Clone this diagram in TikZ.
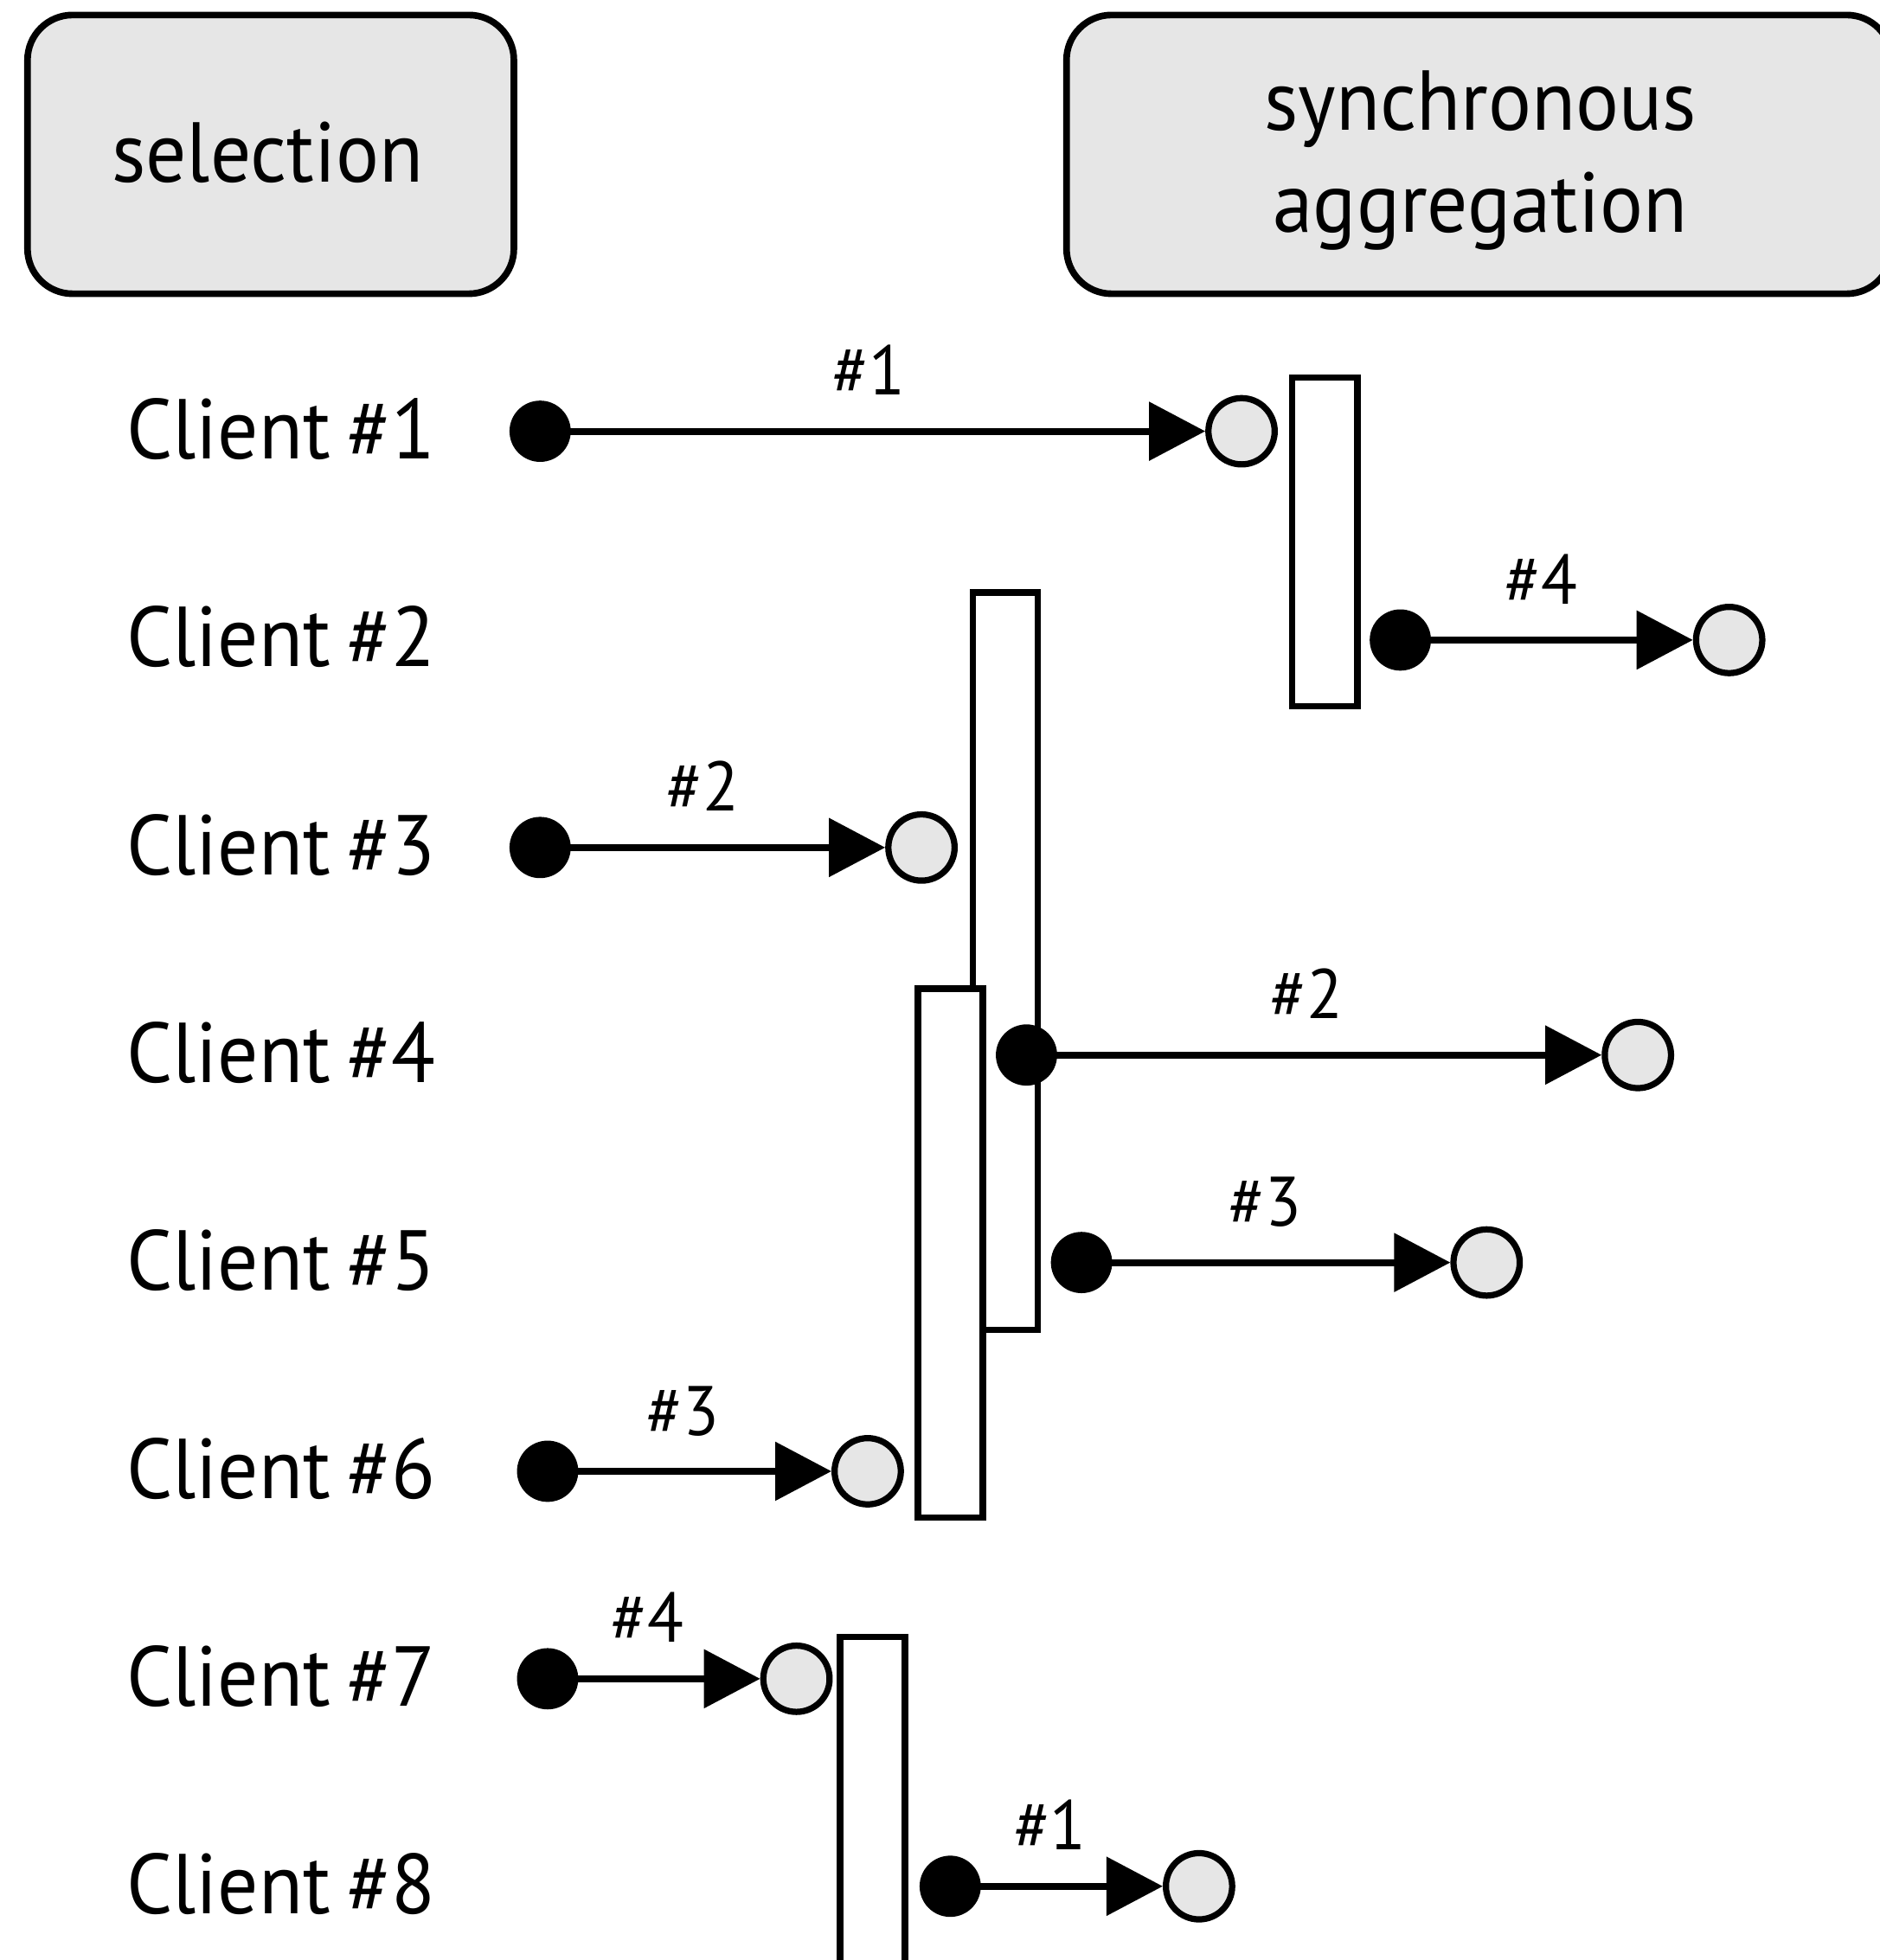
\documentclass[tikz,border=0pt]{standalone}
\usepackage{fontspec}
\setmainfont[FakeStretch=0.95,WordSpace=0.8]{PT Sans}
\usetikzlibrary{arrows.meta}
\definecolor{boxgray}{HTML}{E6E6E6}
\begin{document}
\begin{tikzpicture}[x=1pt,y=-1pt,
  phase/.style={draw, line width=5.3pt, fill=boxgray, rounded corners=36pt, inner sep=0},
  head/.style={anchor=base, inner sep=0, font=\fontsize{68}{80}\selectfont},
  client/.style={anchor=base west, inner sep=0, font=\fontsize{68}{80}\selectfont},
  tag/.style={anchor=base, inner sep=0, font=\fontsize{56}{66}\selectfont},
  src/.style={circle, fill=black, inner sep=0, minimum size=49pt},
  dst/.style={circle, draw, line width=5pt, fill=boxgray, inner sep=0, minimum size=53pt},
  bar/.style={draw, line width=5.3pt, fill=white, inner sep=0},
  msg/.style={line width=5.5pt, -{Triangle[length=45pt,width=46pt]}, shorten <=-2pt}
]
\useasboundingbox (0,0) rectangle (1503,1568);

% phase headers
\draw[phase] (22,12) rectangle (411,235);
\node[head] (sel) at (214,146) {selection};
\draw[phase] (853,12) rectangle (1513,235);
\node[head] (syn1) at (1184,104) {synchronous};
\node[head] (syn2) at (1184,186) {aggregation};

% client rows
\foreach \i in {1,...,8} {
  \node[client] (cl\i) at (101,{367+166.3*(\i-1)}) {Client \#\i};
}

% aggregation bars
\node[bar, minimum width=52pt, minimum height=263pt] (barA) at (1059.5,433.5) {};
\node[bar, minimum width=52pt, minimum height=590pt] (barB) at (804,769) {};
\node[bar, minimum width=52pt, minimum height=423pt] (barC) at (760,1002.5) {};
\node[bar, minimum width=52pt, minimum height=262pt, anchor=north] (barD) at (698,1307) {};

% messages: filled source, open destination
\node[src] (s1) at (432,345) {};  \node[dst] (t1) at (993,345) {};
\node[src] (s3) at (432,678) {};  \node[dst] (t3) at (737,678) {};
\node[src] (s6) at (438,1177) {}; \node[dst] (t6) at (694,1177) {};
\node[src] (s7) at (438,1343) {}; \node[dst] (t7) at (637,1343) {};
\node[src] (s2) at (1120,512) {}; \node[dst] (t2) at (1383,512) {};
\node[src] (s4) at (821,844) {};  \node[dst] (t4) at (1310,844) {};
\node[src] (s5) at (865,1010) {}; \node[dst] (t5) at (1189,1010) {};
\node[src] (s8) at (760,1509) {}; \node[dst] (t8) at (959,1509) {};

\draw[msg] (s1) -- (t1);
\draw[msg] (s3) -- (t3);
\draw[msg] (s6) -- (t6);
\draw[msg] (s7) -- (t7);
\draw[msg] (s2) -- (t2);
\draw[msg] (s4) -- (t4);
\draw[msg] (s5) -- (t5);
\draw[msg] (s8) -- (t8);

% order labels
\node[tag] (n1) at (695,316) {\#1};
\node[tag] (n3) at (562,649) {\#2};
\node[tag] (n6) at (546,1148) {\#3};
\node[tag] (n7) at (518,1314) {\#4};
\node[tag] (n2) at (1233,483) {\#4};
\node[tag] (n4) at (1045,815) {\#2};
\node[tag] (n5) at (1012,981) {\#3};
\node[tag] (n8) at (840,1480) {\#1};
\end{tikzpicture}
\end{document}
